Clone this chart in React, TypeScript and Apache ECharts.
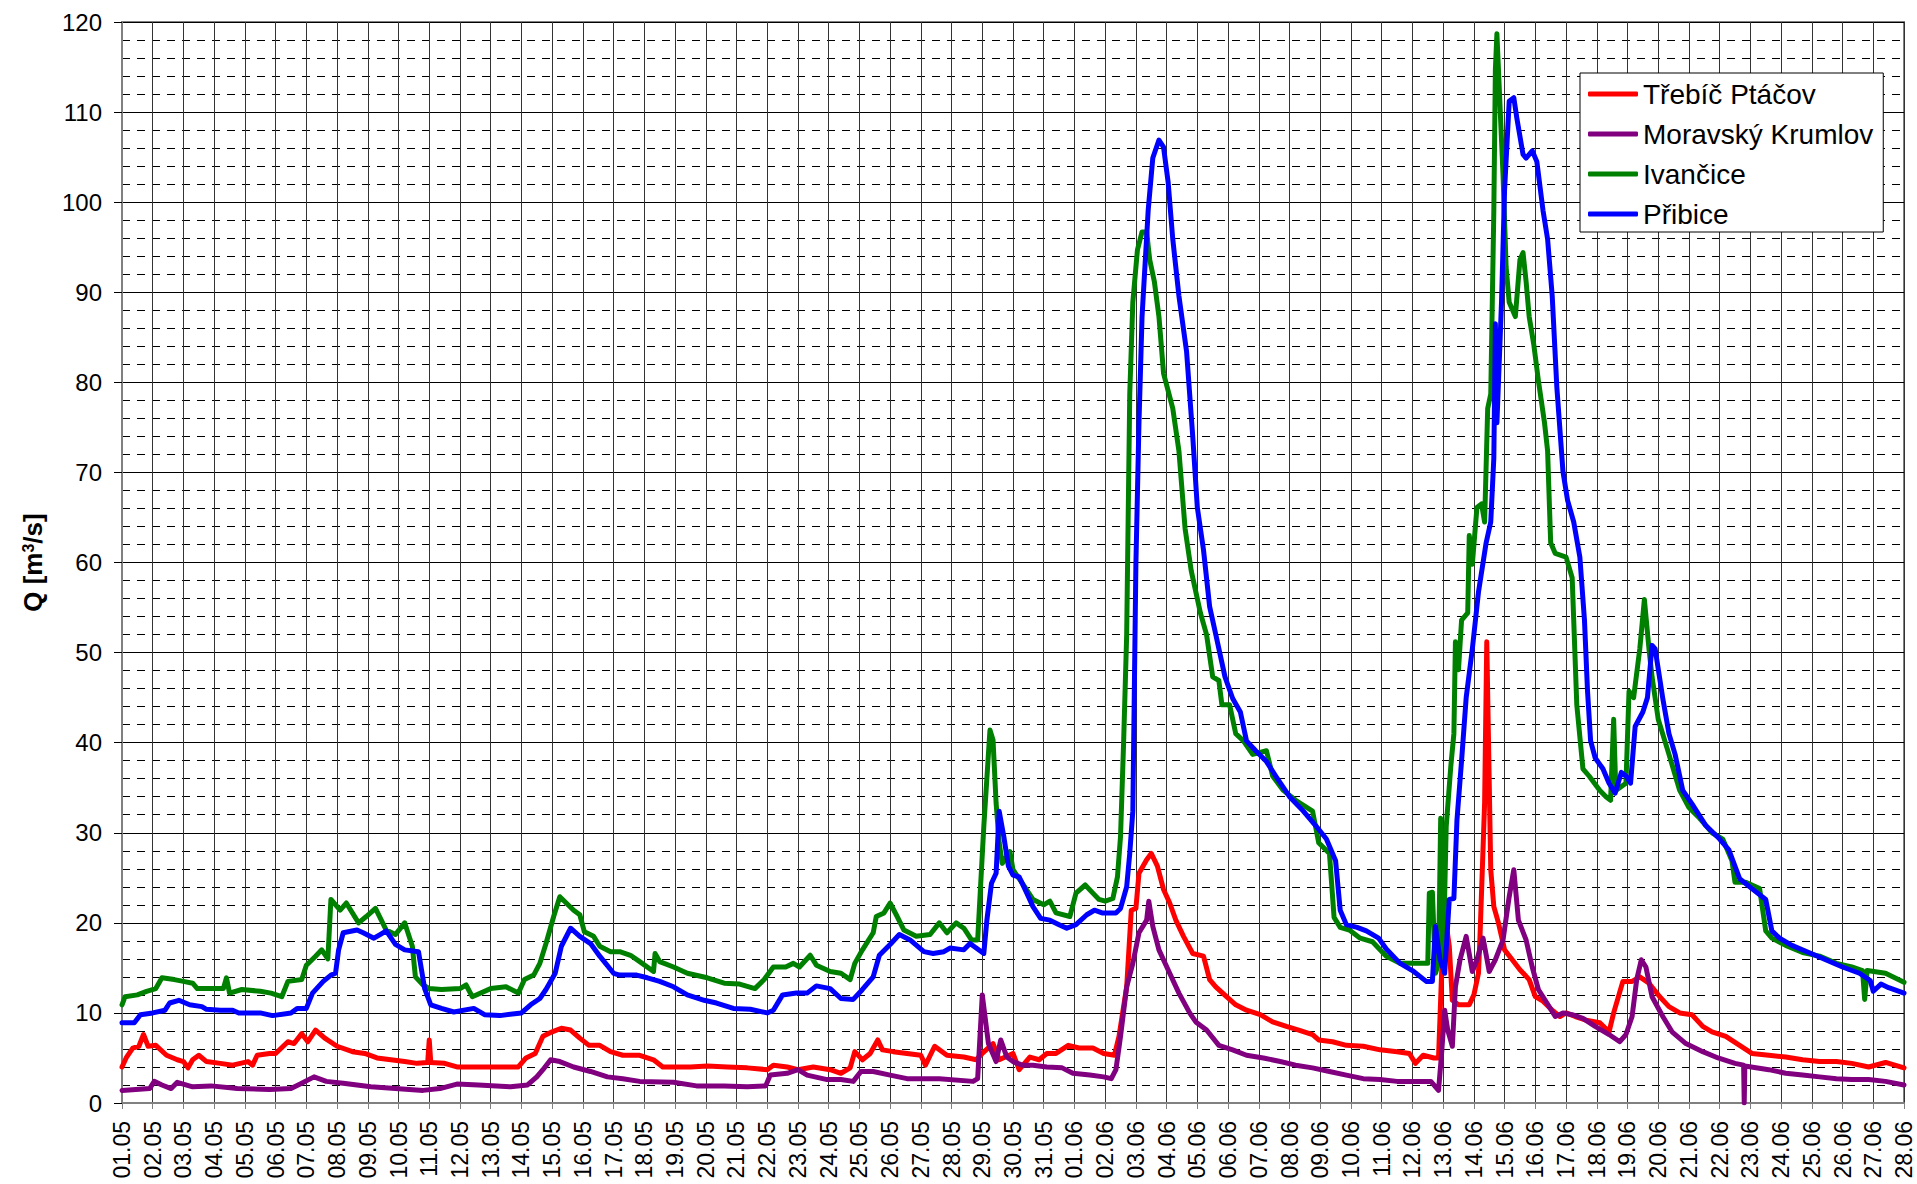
import React, { useEffect, useRef } from "react";
import * as echarts from "echarts";

const FONT = "'Liberation Sans', Arial, Helvetica, sans-serif";

const dateLabels: string[] = [
  "01.05", "02.05", "03.05", "04.05", "05.05", "06.05", "07.05", "08.05", "09.05", "10.05",
  "11.05", "12.05", "13.05", "14.05", "15.05", "16.05", "17.05", "18.05", "19.05", "20.05",
  "21.05", "22.05", "23.05", "24.05", "25.05", "26.05", "27.05", "28.05", "29.05", "30.05",
  "31.05", "01.06", "02.06", "03.06", "04.06", "05.06", "06.06", "07.06", "08.06", "09.06",
  "10.06", "11.06", "12.06", "13.06", "14.06", "15.06", "16.06", "17.06", "18.06", "19.06",
  "20.06", "21.06", "22.06", "23.06", "24.06", "25.06", "26.06", "27.06", "28.06",
];

const seriesNames = ["Třebíč Ptáčov", "Moravský Krumlov", "Ivančice", "Přibice"];
const seriesColors = ["#FF0000", "#800080", "#008000", "#0000FF"];

// [day offset from 01.05, Q m3/s]
const trebicPtacov: number[][] = [
  [0, 4], [0.15, 5.1], [0.35, 6.1], [0.55, 6.3], [0.7, 7.6], [0.85, 6.3], [1.1, 6.4], [1.45, 5.3], [1.8, 4.8],
  [2.0, 4.6], [2.15, 3.9], [2.3, 4.8], [2.5, 5.3], [2.75, 4.6], [3.2, 4.4], [3.6, 4.2], [4.1, 4.6], [4.25, 4.2],
  [4.4, 5.3], [4.8, 5.5], [5.0, 5.5], [5.4, 6.8], [5.6, 6.6], [5.85, 7.7], [6.05, 6.8], [6.3, 8.1], [6.6, 7.2],
  [7.0, 6.3], [7.5, 5.7], [7.9, 5.5], [8.3, 5.0], [8.75, 4.8], [9.2, 4.6], [9.6, 4.4], [9.95, 4.5], [10.0, 7.0],
  [10.05, 4.5], [10.5, 4.4], [10.9, 4.0], [11.6, 4.0], [12.1, 4.0], [12.65, 4.0], [12.9, 4.0], [13.15, 5.0],
  [13.45, 5.5], [13.7, 7.4], [14.0, 7.9], [14.3, 8.3], [14.6, 8.1], [14.9, 7.2], [15.2, 6.4], [15.55, 6.4],
  [15.9, 5.7], [16.3, 5.3], [16.85, 5.3], [17.3, 4.8], [17.6, 4.0], [17.95, 4.0], [18.5, 4.0], [19.05, 4.1],
  [19.7, 4.0], [20.35, 3.9], [21.0, 3.7], [21.2, 4.2], [21.65, 4.0], [22.0, 3.7], [22.5, 4.0], [23.05, 3.7],
  [23.4, 3.3], [23.7, 3.9], [23.85, 5.7], [24.1, 4.8], [24.35, 5.5], [24.6, 7.0], [24.75, 5.9], [25.1, 5.7],
  [25.55, 5.5], [26.0, 5.3], [26.15, 4.2], [26.45, 6.3], [26.85, 5.3], [27.4, 5.1], [27.8, 4.8], [28.0, 5.5],
  [28.35, 6.6], [28.55, 4.8], [29.0, 5.5], [29.2, 3.7], [29.55, 5.1], [29.85, 4.8], [30.1, 5.5], [30.4, 5.5],
  [30.8, 6.4], [31.15, 6.1], [31.6, 6.1], [31.95, 5.5], [32.3, 5.3], [32.45, 7.4], [32.7, 12.9], [32.85, 21.4],
  [33.0, 21.6], [33.1, 25.5], [33.35, 27.0], [33.5, 27.7], [33.7, 26.3], [33.9, 23.7], [34.1, 22.2], [34.3, 20.3],
  [34.55, 18.5], [34.85, 16.6], [35.2, 16.3], [35.4, 13.7], [35.6, 12.9], [35.95, 11.8], [36.25, 10.9],
  [36.6, 10.3], [37.05, 9.8], [37.45, 9.0], [37.9, 8.5], [38.3, 8.1], [38.75, 7.6], [38.95, 7.0], [39.4, 6.8],
  [39.85, 6.4], [40.4, 6.3], [40.95, 5.9], [41.5, 5.7], [41.9, 5.5], [42.1, 4.4], [42.35, 5.3], [42.7, 5.0],
  [42.85, 5.0], [42.95, 14.4], [43.05, 21.1], [43.2, 17.4], [43.3, 11.4], [43.5, 10.9], [43.85, 10.9],
  [44.0, 12.0], [44.15, 14.4], [44.2, 18.5], [44.35, 33.3], [44.42, 51.2], [44.55, 25.9], [44.65, 21.8],
  [44.8, 20.0], [45.0, 17.0], [45.25, 15.9], [45.5, 14.8], [45.8, 13.7], [46.0, 11.8], [46.25, 11.3],
  [46.55, 10.3], [46.8, 9.6], [47.0, 10.0], [47.3, 9.6], [47.65, 9.2], [48.1, 8.9], [48.4, 7.9], [48.55, 10.0],
  [48.85, 13.5], [49.15, 13.5], [49.4, 14.0], [49.7, 13.3], [50.05, 11.8], [50.35, 10.7], [50.7, 10.0],
  [51.1, 9.8], [51.45, 8.5], [51.75, 7.9], [52.2, 7.4], [52.65, 6.4], [53.05, 5.5], [53.6, 5.3], [54.15, 5.1],
  [54.7, 4.8], [55.25, 4.6], [55.8, 4.6], [56.3, 4.4], [56.85, 4.0], [57.4, 4.5], [58, 3.9],
];

const moravskyKrumlov: number[][] = [
  [0, 1.4], [0.9, 1.6], [1.05, 2.4], [1.3, 2.0], [1.6, 1.6], [1.8, 2.3], [2.3, 1.8], [2.9, 1.9], [3.75, 1.6],
  [4.8, 1.5], [5.5, 1.6], [5.8, 2.1], [6.25, 2.9], [6.65, 2.4], [7.2, 2.2], [8.1, 1.8], [8.9, 1.6], [9.8, 1.4],
  [10.35, 1.6], [10.9, 2.1], [11.6, 2.0], [12.65, 1.8], [13.2, 2.0], [13.5, 2.9], [13.7, 3.7], [13.95, 4.8],
  [14.25, 4.6], [14.7, 4.0], [15.25, 3.5], [15.8, 2.9], [16.3, 2.7], [16.85, 2.4], [17.95, 2.3], [18.7, 1.9],
  [19.6, 1.9], [20.35, 1.8], [20.95, 1.9], [21.1, 3.1], [21.65, 3.3], [22.0, 3.7], [22.3, 3.1], [22.95, 2.6],
  [23.4, 2.6], [23.8, 2.4], [24.05, 3.5], [24.45, 3.5], [25.0, 3.1], [25.55, 2.7], [26.6, 2.7], [27.7, 2.4],
  [27.85, 2.7], [28.0, 12.0], [28.2, 6.6], [28.45, 4.6], [28.6, 7.0], [28.8, 5.1], [29.0, 4.6], [29.3, 4.2],
  [29.65, 4.2], [30.1, 4.0], [30.6, 3.9], [30.95, 3.3], [31.5, 3.1], [31.95, 2.9], [32.2, 2.7], [32.35, 3.7],
  [32.5, 7.4], [32.7, 12.9], [32.9, 15.5], [33.1, 18.9], [33.35, 20.3], [33.42, 22.4], [33.55, 19.6],
  [33.75, 17.0], [34.1, 14.4], [34.4, 12.2], [34.75, 10.0], [34.95, 9.0], [35.3, 8.1], [35.7, 6.4],
  [36.15, 5.9], [36.6, 5.3], [37.15, 5.0], [37.7, 4.6], [38.2, 4.2], [38.75, 3.9], [39.3, 3.5], [39.85, 3.1],
  [40.4, 2.7], [40.95, 2.6], [41.5, 2.4], [42.05, 2.4], [42.6, 2.4], [42.85, 1.4], [42.95, 5.5], [43.05, 10.3],
  [43.15, 8.1], [43.3, 6.3], [43.4, 12.9], [43.55, 15.9], [43.75, 18.5], [43.95, 14.6], [44.1, 15.9],
  [44.3, 18.3], [44.5, 14.6], [44.7, 15.9], [44.95, 18.1], [45.15, 22.9], [45.3, 25.9], [45.45, 20.3],
  [45.7, 18.1], [45.9, 15.1], [46.1, 12.6], [46.45, 10.7], [46.65, 9.6], [46.9, 10.0], [47.2, 9.8],
  [47.55, 9.4], [47.95, 8.5], [48.4, 7.6], [48.75, 6.8], [48.95, 7.6], [49.15, 9.6], [49.3, 13.7],
  [49.45, 15.9], [49.6, 15.1], [49.8, 11.8], [50.15, 9.6], [50.45, 7.9], [50.9, 6.6], [51.45, 5.7],
  [51.95, 5.0], [52.5, 4.4], [52.78, 4.2], [52.8, 0], [52.82, 4.1], [53.6, 3.7], [54.15, 3.3], [54.7, 3.1],
  [55.25, 2.9], [55.8, 2.7], [56.3, 2.6], [56.85, 2.6], [57.4, 2.4], [58, 2.0],
];

const ivancice: number[][] = [
  [0, 10.9], [0.1, 11.8], [0.5, 12.0], [0.8, 12.4], [1.1, 12.7], [1.3, 13.9], [1.7, 13.7], [2.0, 13.5],
  [2.3, 13.3], [2.45, 12.7], [2.9, 12.7], [3.3, 12.7], [3.4, 13.9], [3.5, 12.2], [3.9, 12.6], [4.5, 12.4],
  [4.85, 12.2], [5.2, 11.8], [5.4, 13.5], [5.85, 13.7], [6.0, 15.3], [6.3, 16.3], [6.5, 17.0], [6.7, 16.0],
  [6.8, 22.6], [7.1, 21.4], [7.3, 22.2], [7.7, 20.0], [7.95, 20.7], [8.25, 21.6], [8.6, 19.2], [8.9, 18.7],
  [9.2, 20.0], [9.45, 17.4], [9.55, 14.0], [9.8, 13.1], [10.0, 12.7], [10.4, 12.6], [11.0, 12.7], [11.2, 13.1],
  [11.4, 11.8], [12.0, 12.7], [12.5, 12.9], [12.9, 12.2], [13.1, 13.7], [13.4, 14.2], [13.6, 15.5],
  [13.8, 17.7], [14.05, 20.7], [14.25, 22.9], [14.4, 22.4], [14.7, 21.4], [14.9, 20.9], [15.05, 19.0],
  [15.35, 18.5], [15.55, 17.4], [15.9, 16.8], [16.2, 16.8], [16.55, 16.4], [16.85, 15.7], [17.3, 14.6],
  [17.35, 16.6], [17.5, 15.7], [17.95, 15.1], [18.4, 14.4], [19.05, 13.9], [19.6, 13.3], [20.1, 13.2],
  [20.6, 12.7], [20.9, 13.7], [21.2, 15.1], [21.6, 15.1], [21.85, 15.5], [22.05, 15.1], [22.4, 16.4],
  [22.6, 15.3], [23.05, 14.6], [23.4, 14.4], [23.7, 13.7], [23.85, 15.5], [24.1, 17.0], [24.45, 18.9],
  [24.55, 20.7], [24.8, 21.1], [25.0, 22.2], [25.2, 20.9], [25.45, 19.2], [25.85, 18.5], [26.3, 18.7],
  [26.6, 20.0], [26.85, 18.9], [27.15, 20.0], [27.4, 19.4], [27.65, 18.1], [27.85, 18.1], [27.95, 24.4],
  [28.05, 30.7], [28.25, 41.4], [28.35, 40.3], [28.45, 33.3], [28.55, 28.9], [28.65, 26.6], [28.9, 27.9],
  [29.0, 25.9], [29.3, 24.4], [29.65, 22.6], [30.0, 22.0], [30.2, 22.4], [30.4, 21.1], [30.85, 20.7],
  [31.05, 23.3], [31.35, 24.2], [31.6, 23.3], [31.8, 22.6], [32.0, 22.4], [32.25, 22.7], [32.4, 25.1],
  [32.5, 29.6], [32.6, 40.0], [32.7, 52.0], [32.8, 78.7], [32.9, 88.9], [33.05, 94.7], [33.2, 96.7],
  [33.35, 96.7], [33.45, 93.6], [33.6, 91.2], [33.75, 87.3], [33.9, 81.0], [34.2, 77.1], [34.4, 72.4],
  [34.6, 63.8], [34.8, 59.1], [35.1, 54.4], [35.3, 52.0], [35.5, 47.3], [35.7, 46.9], [35.8, 44.2],
  [36.05, 44.2], [36.25, 41.0], [36.5, 40.2], [36.8, 38.7], [37.25, 39.1], [37.45, 36.3], [37.8, 34.7],
  [38.2, 33.6], [38.75, 32.4], [38.95, 28.9], [39.3, 27.7], [39.45, 20.6], [39.65, 19.5], [39.95, 19.2],
  [40.3, 18.3], [40.7, 17.9], [41.15, 16.3], [41.6, 15.5], [42.0, 15.5], [42.4, 15.5], [42.5, 15.5],
  [42.55, 23.3], [42.65, 23.4], [42.75, 14.4], [42.85, 15.5], [42.92, 31.6], [43.0, 15.5], [43.1, 30.7],
  [43.25, 37.4], [43.35, 41.0], [43.4, 51.2], [43.5, 48.1], [43.6, 53.6], [43.8, 54.4], [43.85, 63.0],
  [43.95, 59.8], [44.1, 66.1], [44.25, 66.5], [44.35, 64.5], [44.45, 77.1], [44.55, 78.7], [44.65, 99.1],
  [44.7, 114.7], [44.75, 118.7], [44.85, 110.8], [44.95, 103.0], [45.05, 92.8], [45.15, 88.9], [45.35, 87.3],
  [45.5, 93.6], [45.6, 94.4], [45.7, 91.2], [45.8, 87.3], [45.95, 84.2], [46.1, 80.2], [46.3, 75.5],
  [46.4, 72.4], [46.5, 62.2], [46.65, 61.0], [47.0, 60.6], [47.2, 58.3], [47.35, 44.2], [47.55, 37.1],
  [47.75, 36.3], [48.1, 34.7], [48.3, 34.0], [48.45, 33.6], [48.55, 42.6], [48.62, 34.7], [48.95, 35.5],
  [49.05, 45.7], [49.2, 45.0], [49.4, 50.4], [49.55, 55.9], [49.7, 50.4], [49.8, 47.3], [50.0, 42.6],
  [50.35, 38.7], [50.7, 34.7], [51.0, 32.8], [51.35, 31.6], [51.75, 30.0], [52.1, 29.3], [52.4, 26.9],
  [52.5, 24.5], [52.85, 24.5], [53.3, 23.8], [53.5, 19.1], [53.7, 18.3], [54.15, 17.5], [54.7, 16.7],
  [55.25, 16.3], [55.8, 15.5], [56.3, 15.1], [56.65, 14.7], [56.72, 11.5], [56.8, 14.7], [57.4, 14.4],
  [58, 13.4],
];

const pribice: number[][] = [
  [0, 8.9], [0.4, 8.9], [0.6, 9.8], [1.0, 10.0], [1.4, 10.3], [1.55, 11.1], [1.85, 11.4], [2.2, 10.9],
  [2.6, 10.7], [2.75, 10.4], [3.2, 10.3], [3.6, 10.3], [3.8, 10.0], [4.5, 10.0], [4.9, 9.7], [5.5, 10.0],
  [5.7, 10.5], [6.0, 10.5], [6.2, 12.2], [6.55, 13.5], [6.8, 14.2], [6.95, 14.4], [7.05, 17.0], [7.2, 18.9],
  [7.65, 19.2], [7.85, 18.9], [8.2, 18.3], [8.4, 18.7], [8.6, 19.1], [8.9, 17.6], [9.2, 17.0], [9.65, 16.8],
  [9.85, 12.7], [10.05, 10.9], [10.4, 10.5], [10.8, 10.1], [11.45, 10.5], [11.8, 9.8], [12.3, 9.7],
  [13.0, 10.0], [13.3, 10.9], [13.6, 11.6], [13.8, 12.6], [14.1, 14.4], [14.3, 17.4], [14.6, 19.4],
  [14.9, 18.5], [15.25, 17.7], [15.55, 16.3], [16.0, 14.4], [16.2, 14.2], [16.75, 14.2], [17.1, 13.9],
  [17.5, 13.5], [17.95, 12.9], [18.4, 12.0], [18.95, 11.4], [19.35, 11.1], [19.9, 10.5], [20.45, 10.4],
  [21.0, 10.0], [21.2, 10.3], [21.5, 12.0], [21.95, 12.2], [22.3, 12.2], [22.6, 13.0], [23.05, 12.7],
  [23.4, 11.6], [23.8, 11.5], [24.1, 12.6], [24.45, 14.0], [24.65, 16.4], [25.0, 17.6], [25.3, 18.7],
  [25.65, 18.1], [26.1, 16.8], [26.4, 16.6], [26.75, 16.8], [26.95, 17.2], [27.4, 17.0], [27.6, 17.7],
  [28.05, 16.6], [28.15, 20.3], [28.3, 24.4], [28.45, 25.5], [28.55, 32.4], [28.7, 29.6], [28.85, 26.3],
  [29.0, 25.3], [29.2, 25.1], [29.45, 23.3], [29.65, 21.8], [29.9, 20.5], [30.2, 20.3], [30.5, 19.8],
  [30.75, 19.4], [31.05, 19.8], [31.4, 20.9], [31.65, 21.4], [31.9, 21.1], [32.35, 21.1], [32.5, 21.6],
  [32.7, 24.0], [32.8, 27.7], [32.9, 32.4], [33.0, 59.8], [33.1, 75.5], [33.2, 87.3], [33.4, 99.1],
  [33.55, 104.9], [33.75, 106.9], [33.9, 106.1], [34.05, 102.2], [34.2, 95.9], [34.4, 89.6], [34.65, 83.4],
  [34.85, 74.0], [35.0, 66.1], [35.2, 61.4], [35.4, 55.1], [35.6, 52.0], [35.9, 47.3], [36.15, 44.9],
  [36.4, 43.4], [36.6, 40.2], [36.9, 39.1], [37.25, 37.9], [37.55, 36.3], [38.0, 34.0], [38.45, 32.4],
  [38.85, 30.8], [39.2, 29.3], [39.5, 26.9], [39.65, 21.4], [39.85, 19.8], [40.2, 19.5], [40.5, 19.1],
  [40.9, 18.3], [41.15, 17.1], [41.6, 15.5], [42.0, 14.7], [42.45, 13.5], [42.65, 13.5], [42.75, 19.6],
  [42.9, 15.9], [43.05, 14.4], [43.2, 22.6], [43.35, 22.7], [43.45, 31.4], [43.6, 38.0], [43.75, 45.0],
  [43.95, 50.4], [44.15, 56.7], [44.4, 62.2], [44.55, 64.5], [44.65, 71.6], [44.7, 86.5], [44.75, 75.5],
  [44.9, 88.9], [45.0, 101.4], [45.15, 111.2], [45.3, 111.6], [45.4, 109.3], [45.6, 105.3], [45.7, 104.9],
  [45.9, 105.7], [46.05, 104.5], [46.25, 99.1], [46.4, 95.9], [46.55, 89.6], [46.7, 79.5], [46.9, 70.1],
  [47.05, 66.9], [47.25, 64.5], [47.45, 60.6], [47.6, 53.6], [47.7, 45.7], [47.8, 40.2], [47.95, 38.3],
  [48.2, 37.1], [48.4, 35.5], [48.6, 34.4], [48.8, 36.7], [48.95, 36.3], [49.1, 35.5], [49.25, 41.8],
  [49.5, 43.4], [49.65, 45.0], [49.8, 50.8], [49.9, 50.4], [50.15, 44.9], [50.35, 41.0], [50.55, 38.7],
  [50.8, 34.7], [51.1, 33.2], [51.55, 30.8], [52.0, 29.3], [52.3, 28.1], [52.65, 24.9], [53.05, 23.8],
  [53.5, 22.6], [53.7, 19.1], [53.95, 18.3], [54.35, 17.5], [54.9, 16.7], [55.45, 15.9], [56.0, 15.1],
  [56.55, 14.4], [56.9, 13.6], [57.0, 12.4], [57.25, 13.2], [57.5, 12.8], [58, 12.2],
];

const seriesData = [trebicPtacov, moravskyKrumlov, ivancice, pribice];

export default function App() {
  const ref = useRef<HTMLDivElement>(null);

  useEffect(() => {
    if (!ref.current) return;
    const chart = echarts.init(ref.current, undefined, { renderer: "svg" });
    chart.setOption({
      animation: false,
      backgroundColor: "#ffffff",
      textStyle: { fontFamily: FONT },
      grid: {
        left: 122,
        right: 13,
        top: 22,
        bottom: 81,
        show: true,
        borderColor: "#808080",
        borderWidth: 2,
        backgroundColor: "transparent",
      },
      xAxis: {
        type: "value",
        min: 0,
        max: dateLabels.length - 1,
        interval: 1,
        axisLine: { show: true, onZero: false, lineStyle: { color: "#808080", width: 2 } },
        axisTick: { show: true, length: 6, lineStyle: { color: "#808080", width: 1 } },
        axisLabel: {
          rotate: 90,
          margin: 18,
          fontSize: 23,
          color: "#000",
          fontFamily: FONT,
          showMinLabel: true,
          showMaxLabel: true,
          formatter: (v: number) => dateLabels[Math.round(v)] ?? "",
        },
        splitLine: { show: true, lineStyle: { color: "#333333", width: 1 } },
      },
      yAxis: {
        type: "value",
        min: 0,
        max: 120,
        interval: 10,
        name: "Q [m{sup|3}/s]",
        nameLocation: "middle",
        nameRotate: 90,
        nameGap: 76,
        nameTextStyle: {
          fontSize: 26,
          fontWeight: "bold",
          color: "#000",
          fontFamily: FONT,
          rich: {
            sup: {
              fontSize: 16,
              fontWeight: "bold",
              color: "#000",
              fontFamily: FONT,
              verticalAlign: "top",
              padding: [0, 0, 10, 0],
            },
          },
        },
        axisLine: { show: true, lineStyle: { color: "#808080", width: 2 } },
        axisTick: { show: true, length: 8, lineStyle: { color: "#000", width: 1 } },
        axisLabel: { margin: 20, fontSize: 24, color: "#000", fontFamily: FONT },
        splitLine: { show: true, lineStyle: { color: "#000", width: 1 } },
        minorTick: { show: false, splitNumber: 5 },
        minorSplitLine: { show: true, lineStyle: { color: "#000", width: 1, type: [8, 7] } },
      },
      legend: {
        orient: "vertical",
        left: 1580,
        top: 73,
        padding: [6, 10, 3, 8],
        itemGap: 10,
        itemWidth: 50,
        itemHeight: 5,
        icon: "roundRect",
        backgroundColor: "#ffffff",
        borderColor: "#000",
        borderWidth: 1,
        borderRadius: 0,
        textStyle: { fontSize: 28, color: "#000", lineHeight: 30, fontFamily: FONT },
        data: seriesNames,
      },
      series: seriesNames.map((name, i) => ({
        name,
        type: "line",
        data: seriesData[i],
        showSymbol: false,
        symbol: "none",
        lineStyle: { width: 5, color: seriesColors[i], join: "round", cap: "round" },
        itemStyle: { color: seriesColors[i] },
        emphasis: { disabled: true },
        clip: true,
      })),
    });
    return () => chart.dispose();
  }, []);

  return (
    <div
      ref={ref}
      style={{ position: "fixed", left: 0, top: 0, width: 1917, height: 1184, background: "#fff" }}
    />
  );
}
